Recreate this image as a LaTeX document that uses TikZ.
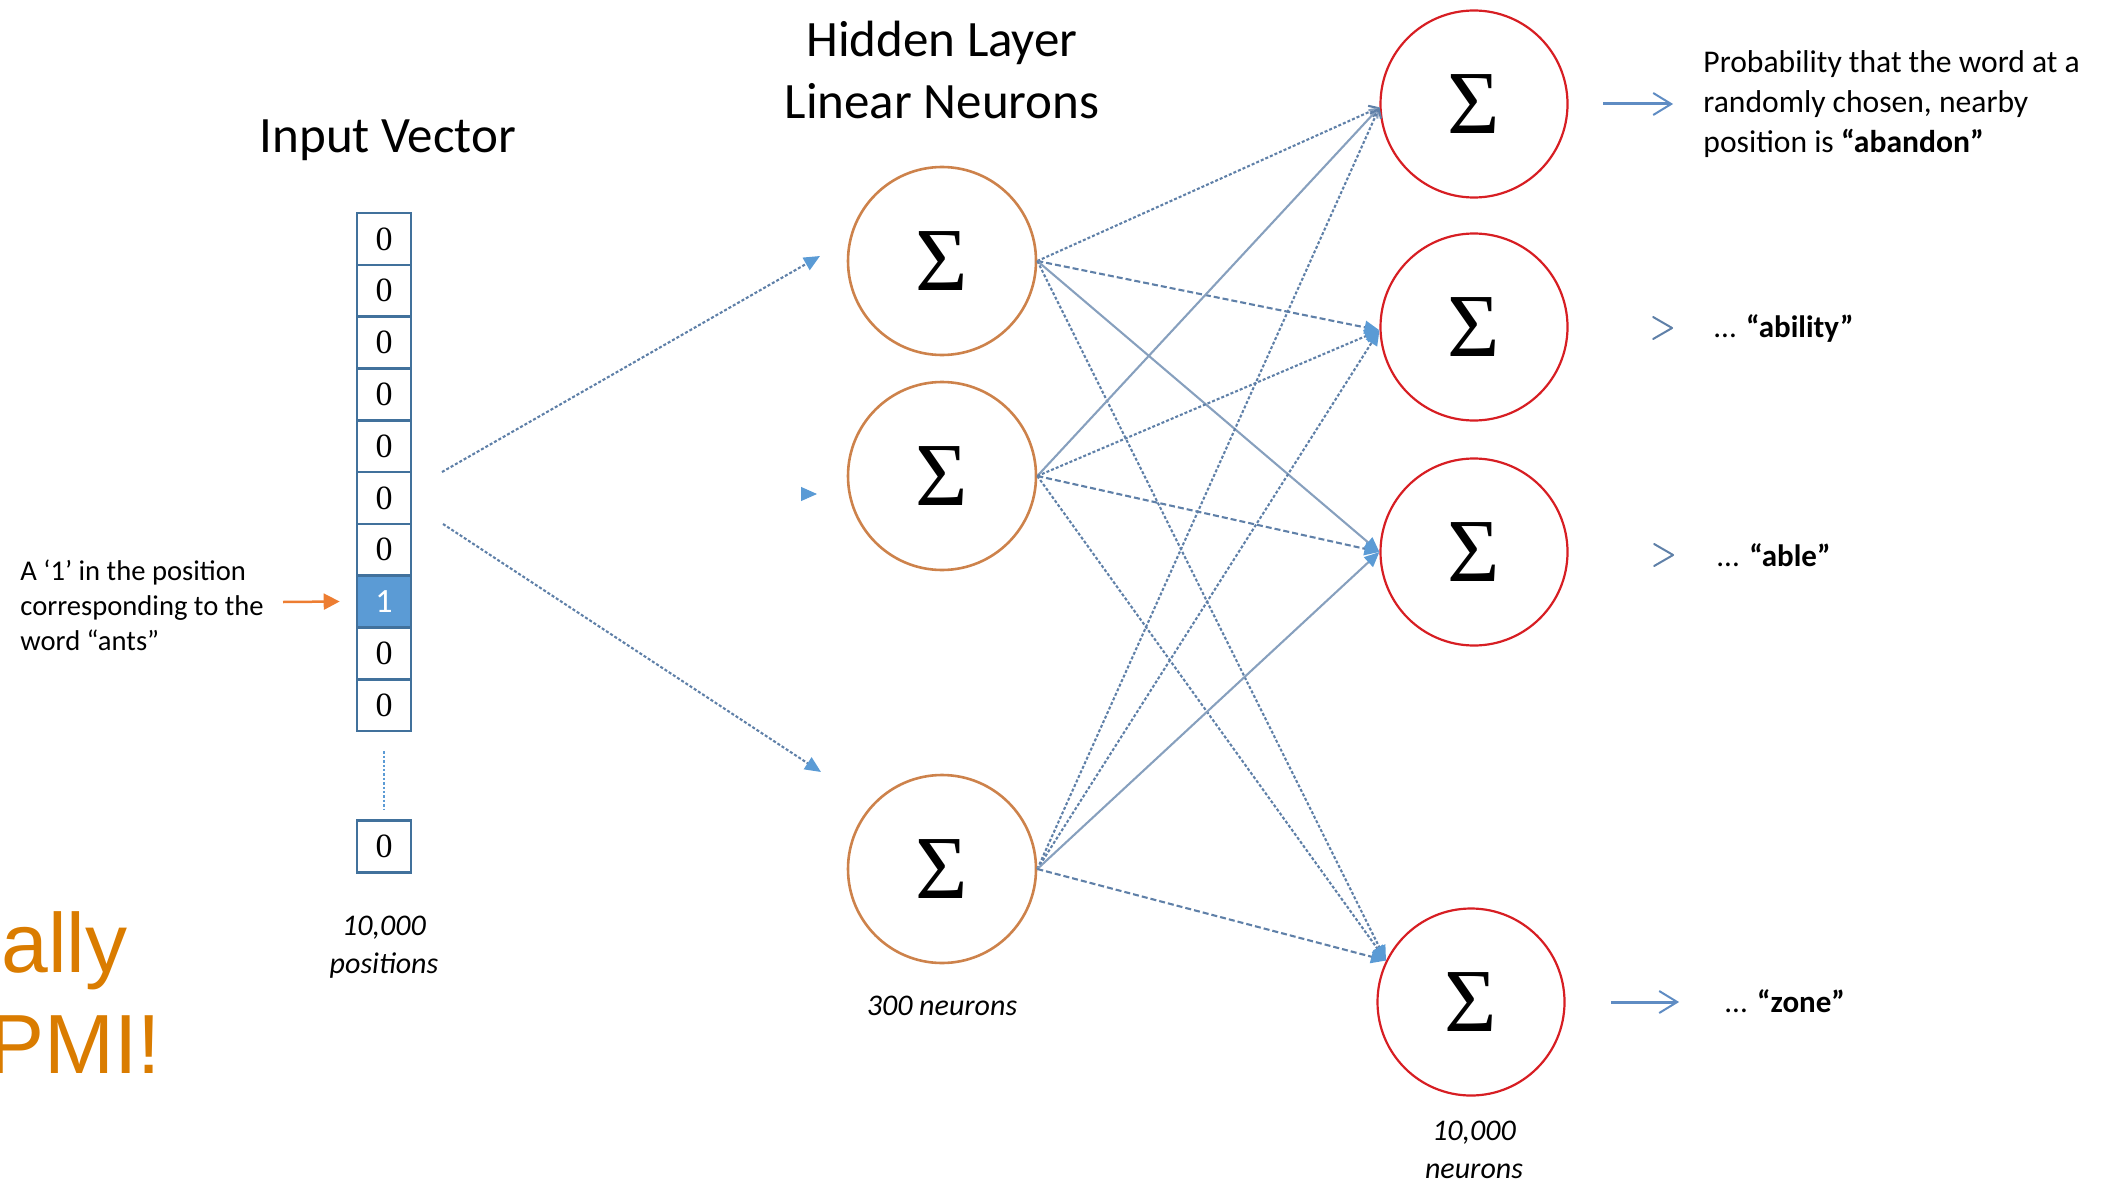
\documentclass[tikz,border=0pt]{standalone}
\usepackage{fontspec}
\setmainfont{Carlito}
\newfontfamily\sigfnt{Liberation Serif}
\newfontfamily\pmifnt{Liberation Sans}
\usetikzlibrary{arrows.meta}
\definecolor{cellblue}{RGB}{65,113,156}
\definecolor{fillblue}{RGB}{91,155,213}
\definecolor{hidorange}{RGB}{205,130,75}
\definecolor{outred}{RGB}{215,30,35}
\definecolor{connblue}{RGB}{95,128,168}
\definecolor{tipblue}{RGB}{91,155,213}
\definecolor{antorange}{RGB}{237,125,49}
\definecolor{pmiorange}{RGB}{218,124,0}
\definecolor{outblue}{RGB}{95,140,195}
\begin{document}
\begin{tikzpicture}[x=0.5pt,y=-0.5pt,
  cell/.style={draw=cellblue,line width=1.3pt,minimum width=27pt,minimum height=25.9pt,inner sep=0pt,font=\sigfnt\fontsize{17}{17}\selectfont},
  onecell/.style={cell,fill=fillblue,text=white,font=\fontsize{17}{17}\selectfont},
  hid/.style={circle,draw=hidorange,line width=1.3pt,minimum size=94pt,inner sep=0pt,font=\sigfnt\fontsize{45}{45}\selectfont},
  outn/.style={circle,draw=outred,line width=1.1pt,minimum size=93.5pt,inner sep=0pt,font=\sigfnt\fontsize{45}{45}\selectfont},
  title/.style={font=\fontsize{25.5}{31}\selectfont,align=center,inner sep=0pt},
  caption/.style={font=\itshape\fontsize{15}{18.8}\selectfont,align=center,inner sep=0pt},
  leftlab/.style={font=\fontsize{14.3}{17.5}\selectfont,align=left,inner sep=0pt},
  rtext/.style={font=\fontsize{15.8}{19.8}\selectfont,align=left,inner sep=0pt},
  wlab/.style={font=\fontsize{15.5}{18}\selectfont,inner sep=0pt},
  pmi/.style={font=\pmifnt\fontsize{42}{42}\selectfont,text=pmiorange,inner sep=0pt},
  conn/.style={draw=connblue,line width=1.05pt},
  cdot/.style={conn,dash pattern=on 1.5pt off 1pt},
  cdash/.style={conn,dash pattern=on 3pt off 1.5pt},
  csolid/.style={conn,draw=connblue!75},
  tipf/.style={-{Triangle[length=7.5pt,width=6.5pt,color=tipblue]}},
  tipo/.style={-{Straight Barb[length=4pt,width=6pt]}},
  intip/.style={-{Triangle[length=8pt,width=7pt,color=tipblue]}},
  antarrow/.style={draw=antorange,line width=1.25pt,-{Triangle[length=8pt,width=8pt]}},
  vdots/.style={draw=fillblue,line width=1.2pt,dash pattern=on 1.2pt off 1pt},
  outarrow/.style={draw=outblue,line width=1.5pt,-{Straight Barb[length=9pt,width=11pt,line width=1pt]}},
  chev/.style={draw=connblue,line width=1pt,line cap=round,line join=round}
]
\useasboundingbox (0,0) rectangle (2107,1182);
\clip (0,0) rectangle (2107,1182);

% titles
\node[title] (tin) at (388,140) {Input Vector};
\node[title] (thid) at (942,70) {Hidden Layer\\Linear Neurons};

% input vector
\foreach \i/\s/\v in {1/cell/0,2/cell/0,3/cell/0,4/cell/0,5/cell/0,6/cell/0,7/cell/0,8/onecell/1,9/cell/0,10/cell/0}
  \node[\s] (c\i) at (384,{213+51.8*(\i-0.5)}) {\v};
\node[cell] (cl) at (384,846.5) {0};
\draw[vdots,shorten <=9.5pt,shorten >=5pt] (c10.south) -- (cl.north);
\node[caption] (cap1) at (384,947) {10,000\\positions};

% left label
\node[leftlab,anchor=west] (lab) at (20,605) {A ‘1’ in the position\\corresponding to the\\word “ants”};
\coordinate (antstart) at (283,602);
\draw[antarrow] (antstart) -- ([xshift=-8pt]c8.west);

% orange text
\node[pmi,anchor=base west] (ally) at (1,972) {ally};
\node[pmi,anchor=base west] (pmitxt) at (-12,1073) {PMI!};

% hidden neurons
\node[hid] (H1) at (942,261) {Σ};
\node[hid] (H2) at (942,476) {Σ};
\node[hid] (H3) at (942,869) {Σ};
\node[caption] (cap2) at (942,1006) {300 neurons};

% output neurons
\node[outn] (O1) at (1474,104) {Σ};
\node[outn] (O2) at (1474,327) {Σ};
\node[outn] (O3) at (1474,552) {Σ};
\node[outn] (O4) at (1471,1002) {Σ};
\node[caption] (cap3) at (1474,1150) {10,000\\neurons};

% input -> hidden
\coordinate (in1) at (442,472);
\coordinate (t1) at (820,256);
\coordinate (in2) at (443,524);
\coordinate (t2) at (821,772);
\coordinate (m1) at (801,494);
\coordinate (m2) at (817,494);
\draw[cdot,intip] (in1) -- (t1);
\draw[cdot,intip] (in2) -- (t2);
\draw[draw=tipblue,line width=0.5pt,intip] (m1) -- (m2);

% hidden -> output
\draw[cdot,tipo] (H1.east) -- (O1.182);
\draw[cdash,tipf] (H1.east) -- (O2.182);
\draw[csolid,tipf] (H1.east) -- (O3.180);
\draw[cdot,tipf] (H1.east) -- (O4.154);
\draw[csolid,tipo] (H2.east) -- (O1.182);
\draw[cdot,tipf] (H2.east) -- (O2.182);
\draw[cdash,tipf] (H2.east) -- (O3.180);
\draw[cdot,tipf] (H2.east) -- (O4.154);
\draw[cdot,tipo] (H3.east) -- (O1.182);
\draw[cdot,tipf] (H3.east) -- (O2.182);
\draw[csolid,tipf] (H3.east) -- (O3.180);
\draw[cdash,tipf] (H3.east) -- (O4.154);

% output labels
\node[rtext,anchor=west] (T1) at (1703,104) {Probability that the word at a\\randomly chosen, nearby\\position is \textbf{“abandon”}};
\node[wlab,anchor=west] (T2) at (1713,328) {... \textbf{“ability”}};
\node[wlab,anchor=west] (T3) at (1716,555) {... \textbf{“able”}};
\node[wlab,anchor=west] (T4) at (1724,1001) {... \textbf{“zone”}};

\draw[outarrow] ([xshift=17.25pt]O1.east) -- ++(70,0);
\draw[outarrow] ([xshift=22.75pt]O4.east) -- ++(68,0);
\draw[chev] ([xshift=42.25pt,yshift=5pt]O2.east) -- ++(19,11) -- ++(-19,11);
\draw[chev] ([xshift=42.75pt,yshift=4pt]O3.east) -- ++(19,11) -- ++(-19,11);
\end{tikzpicture}
\end{document}
